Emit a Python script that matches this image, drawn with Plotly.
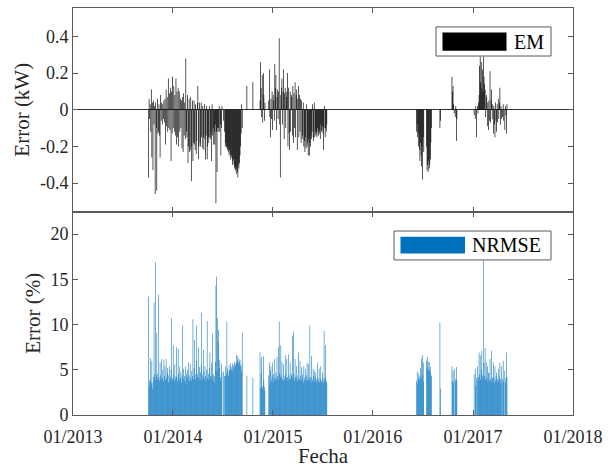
import pandas as pd
import plotly.graph_objects as go
from plotly.subplots import make_subplots

# ---- data: daily-sampled (every 2 days) error series, by measurement campaign ----
seg_starts = ["2013-10-04", "2014-09-28", "2014-10-20", "2014-11-15",
              "2016-06-09", "2016-09-02", "2016-10-16", "2017-01-05"]
N = None

em_seg1 = [-0.37, 0.06, -0.05, 0.03, -0.12, 0.11, -0.26, 0.04, -0.33, 0.05,
           -0.08, 0.02, -0.46, 0.04, -0.1, -0.44, 0.06, -0.13, -0.12, 0.03,
           -0.14, -0.26, 0.08, -0.06, 0.04, -0.08, 0.03, -0.05, 0.05, -0.07,
           0.06, -0.19, 0.11, -0.09, 0.07, -0.12, 0.17, -0.1, 0.09, -0.11,
           0.12, -0.28, 0.1, -0.13, 0.18, -0.1, 0.13, -0.12, 0.08, -0.14,
           0.17, -0.19, 0.1, -0.15, 0.12, -0.2, 0.1, -0.12, 0.06, -0.1,
           0.05, -0.21, 0.07, -0.23, 0.09, -0.14, 0.04, -0.16, 0.28, -0.12,
           -0.15, 0.08, -0.29, -0.2, 0.06, -0.23, -0.22, 0.07, -0.39, -0.2,
           0.05, -0.28, -0.18, 0.05, -0.19, -0.22, 0.03, -0.24, -0.17, 0.04,
           0.13, -0.27, -0.2, 0.04, -0.18, -0.2, 0.04, -0.15, -0.21, 0.02,
           -0.15, -0.22, 0.03, -0.16, -0.27, -0.14, 0.02, -0.27, -0.2, -0.15,
           -0.18, 0.02, -0.15, -0.16, -0.12, -0.28, 0.03, -0.14, -0.1, -0.19,
           -0.12, -0.19, -0.08, -0.51, -0.12, -0.34, -0.1, -0.12, -0.1, 0.02,
           -0.12, -0.08, -0.25, -0.1, 0.02, N, N, -0.06, N, -0.12,
           -0.2, -0.18, -0.2, -0.21, -0.22, -0.2, -0.23, -0.25, -0.22, -0.24,
           -0.27, -0.25, -0.26, -0.3, -0.28, -0.27, -0.3, -0.32, -0.31, -0.33,
           -0.35, -0.32, -0.34, -0.37, -0.3, -0.32, -0.29, -0.25, -0.2, -0.13,
           0.03, -0.1]
em_iso1 = [0.13]
em_iso2 = [0.15]
em_seg2 = [0.05, 0.26, 0.12, -0.04, 0.19, -0.07, 0.2, 0.08, -0.06, 0.04,
           N, N, N, N, N, N, 0.05, 0.22, -0.04, -0.15,
           0.06, -0.05, 0.1, -0.11, 0.08, 0.05, -0.06, 0.25, 0.12, 0.19,
           -0.11, 0.07, 0.11, -0.05, 0.1, 0.39, -0.08, -0.37, 0.08, 0.12,
           0.17, -0.08, 0.1, 0.22, -0.16, 0.09, 0.12, -0.1, 0.07, 0.1,
           0.2, -0.2, 0.12, -0.13, -0.22, 0.1, -0.12, 0.08, 0.07, -0.14,
           0.13, -0.18, 0.09, -0.1, 0.15, -0.15, 0.08, 0.11, -0.22, 0.06,
           0.13, -0.15, 0.08, -0.12, 0.06, -0.18, 0.05, -0.16, -0.14, 0.04,
           -0.2, -0.17, -0.23, -0.15, -0.21, 0.03, -0.2, -0.18, -0.25, -0.16,
           -0.25, -0.18, -0.2, -0.14, -0.16, -0.12, 0.03, -0.15, -0.17, 0.04,
           -0.15, -0.12, -0.14, -0.13, -0.15, -0.1, -0.12, -0.14, -0.11, -0.13,
           -0.16, -0.08, -0.12, -0.11, -0.09, -0.13, -0.22, -0.1, 0.02, -0.15,
           -0.1, -0.12, -0.08]
em_seg3 = [-0.12, -0.08, -0.15, -0.2, -0.13, -0.22, -0.28, -0.18, -0.25, -0.31,
           -0.2, -0.38, -0.15, -0.23, N, N, N, N, -0.2, -0.33,
           -0.3, -0.34, -0.28, -0.32, -0.3, -0.27, -0.18, -0.1]
em_iso3 = [-0.1, -0.06]
em_seg3b = [0.18, 0.1, 0.13, 0.03, -0.02, N, -0.04, 0.02, -0.17, -0.05]
em_seg4 = [-0.03, N, -0.05, 0.02, -0.15, N, 0.02, -0.02, 0.04, 0.08,
           0.24, 0.29, 0.15, 0.26, 0.12, 0.22, 0.1, 0.29, 0.18, 0.14,
           0.11, -0.04, 0.08, 0.07, -0.09, 0.04, -0.11, 0.05, -0.06, 0.21,
           -0.07, 0.05, 0.11, -0.05, 0.03, -0.13, 0.02, -0.08, -0.15, 0.04,
           -0.06, -0.12, 0.03, -0.07, 0.06, -0.05, 0.04, 0.12, -0.08, 0.02,
           -0.05, N, -0.04, 0.03, -0.06, N, -0.11, 0.02, -0.03, -0.13, 0.03]

nrmse_seg1 = [13.1, 3.2, 3.8, 6.3, 4.0, 3.5, 6.0, 2.9, 3.6, 4.2,
              12.4, 4.5, 3.9, 16.9, 4.4, 9.1, 4.0, 4.6, 13.3, 4.2,
              3.8, 5.8, 4.4, 3.9, 6.2, 4.1, 5.0, 3.7, 6.1, 4.3,
              5.4, 3.9, 6.2, 4.0, 4.6, 5.2, 3.6, 4.4, 5.4, 3.8,
              4.2, 5.0, 10.7, 4.1, 3.9, 7.7, 4.5, 3.8, 5.6, 4.0,
              4.3, 7.5, 4.2, 3.7, 7.3, 4.6, 3.9, 5.4, 4.1, 4.8,
              3.6, 4.4, 9.9, 4.0, 5.1, 3.8, 4.3, 5.4, 3.5, 4.6,
              4.2, 5.0, 3.9, 5.8, 4.4, 3.7, 5.6, 4.1, 3.8, 4.9,
              4.3, 10.6, 4.0, 5.2, 8.3, 4.5, 3.9, 6.0, 9.9, 4.2,
              4.6, 7.5, 4.1, 5.3, 3.8, 4.7, 5.5, 11.3, 4.4, 3.9,
              7.2, 4.8, 4.0, 5.4, 4.3, 3.7, 5.0, 10.4, 4.1, 4.6,
              3.9, 5.2, 6.9, 4.3, 4.0, 5.8, 4.4, 9.0, 3.8, 4.5,
              4.3, 3.6, 5.9, 14.3, 15.3, 4.8, 10.7, 8.1, 9.4, 5.2,
              6.1, 4.2, 3.8, 5.7, 4.7, N, N, 4.8, N, 4.3,
              4.3, 5.4, 4.6, 10.3, 5.1, 4.8, 4.3, 5.5, 4.9, 5.0,
              5.7, 5.0, 5.3, 5.7, 4.9, 5.5, 5.2, 5.9, 5.4, 5.6,
              5.8, 6.7, 6.0, 6.5, 5.7, 6.2, 5.9, 6.1, 5.4, 5.6,
              4.8, 9.1]
nrmse_iso1 = [4.3]
nrmse_iso2 = [4.1]
nrmse_seg2 = [6.9, 3.0, 4.6, 6.4, 3.2, 2.9, 6.5, 3.9, 3.1, 2.7,
              N, N, N, N, N, N, 4.4, 5.8, 3.5, 4.9,
              5.4, 3.8, 4.2, 5.8, 3.6, 4.5, 4.0, 6.2, 3.9, 4.7,
              4.1, 6.4, 4.3, 3.8, 7.5, 10.3, 4.6, 4.2, 7.7, 4.4,
              5.9, 4.0, 3.7, 5.6, 4.3, 3.9, 6.6, 4.5, 4.1, 6.2,
              4.2, 3.8, 6.7, 4.4, 4.0, 5.8, 3.9, 4.6, 4.3, 8.8,
              4.1, 9.2, 4.5, 3.8, 6.2, 4.2, 4.0, 5.4, 3.7, 4.4,
              6.9, 4.1, 3.9, 6.0, 4.3, 3.8, 5.3, 4.0, 4.5, 3.6,
              5.4, 3.9, 4.2, 5.1, 3.7, 4.4, 5.8, 3.8, 4.1, 5.6,
              3.9, 9.9, 4.2, 3.6, 6.5, 4.0, 3.8, 5.1, 4.3, 4.9,
              3.7, 4.2, 4.7, 3.9, 3.5, 5.8, 4.1, 3.8, 5.1, 3.6,
              4.0, 5.4, 3.8, 3.5, 4.7, 4.1, 3.6, 9.3, 3.9, 4.2,
              7.7, 3.8, 3.5]
nrmse_seg3 = [3.8, 4.8, 3.5, 4.1, 4.6, 3.9, 4.3, 5.2, 4.0, 6.2,
              4.4, 6.6, 5.8, 3.7, N, N, N, N, 6.0, 5.2,
              6.4, 5.9, 5.0, 5.8, 4.9, 5.3, 4.6, 4.3]
nrmse_iso3 = [10.2, 2.9]
nrmse_seg3b = [5.4, 3.8, 4.9, 3.6, 5.1, N, 4.0, 3.7, 5.3, 3.9]
nrmse_seg4 = [4.5, N, 5.1, 3.2, 4.1, N, 5.4, 3.8, 4.2, 6.9,
              4.5, 6.6, 3.9, 5.0, 7.1, 4.4, 4.0, 17.3, 5.8, 4.3,
              7.4, 3.9, 5.8, 4.1, 5.4, 3.7, 4.6, 4.7, 3.8, 6.2,
              4.0, 3.6, 7.1, 4.2, 3.9, 5.8, 4.1, 3.5, 5.4, 3.8,
              4.3, 4.7, 3.6, 4.0, 5.1, 3.7, 4.2, 5.8, 3.9, 3.5,
              5.4, N, 4.0, 6.0, 3.7, N, 4.9, 3.6, 4.1, 6.9, 4.2]

em_segments = [em_seg1, em_iso1, em_iso2, em_seg2, em_seg3, em_iso3, em_seg3b, em_seg4]
nrmse_segments = [nrmse_seg1, nrmse_iso1, nrmse_iso2, nrmse_seg2, nrmse_seg3,
                  nrmse_iso3, nrmse_seg3b, nrmse_seg4]

x_ticks = ["2013-01-01", "2014-01-01", "2015-01-01", "2016-01-01", "2017-01-01", "2018-01-01"]
x_ticklabels = ["01/2013", "01/2014", "01/2015", "01/2016", "01/2017", "01/2018"]


def build(segments):
    xs, ys = [], []
    for start, vals in zip(seg_starts, segments):
        dates = pd.date_range(start, periods=len(vals), freq="2D")
        xs.extend(dates)
        ys.extend(vals)
    return xs, ys


em_x, em_y = build(em_segments)
nr_x, nr_y = build(nrmse_segments)

DAY_MS = 86400000
FONT = "Liberation Serif"
TXT = "#262626"
AX = "#5a5a5a"

fig = make_subplots(rows=2, cols=1, shared_xaxes=True, vertical_spacing=0)
fig.add_trace(go.Bar(x=em_x, y=em_y, width=[2.4 * DAY_MS] * len(em_x),
                     marker=dict(color="#000000", line=dict(width=0)),
                     name="EM", showlegend=False), row=1, col=1)
fig.add_trace(go.Bar(x=nr_x, y=nr_y, width=[2.0 * DAY_MS] * len(nr_x),
                     marker=dict(color="#0072BD", line=dict(width=0)),
                     name="NRMSE", showlegend=False), row=2, col=1)

xcommon = dict(type="date", range=["2013-01-01", "2018-01-01"], automargin=False,
               tickmode="array", tickvals=x_ticks, ticktext=x_ticklabels,
               ticks="inside", ticklen=5, tickcolor=AX, showline=True, linecolor=AX,
               linewidth=1, mirror="allticks", showgrid=False, zeroline=False,
               tickfont=dict(family=FONT, size=18, color=TXT))
fig.update_xaxes(**xcommon)
fig.update_xaxes(showticklabels=False, row=1, col=1)
fig.update_xaxes(ticklabelstandoff=5,
                 title=dict(text="Fecha", font=dict(family=FONT, size=21, color=TXT), standoff=2),
                 row=2, col=1)

ycommon = dict(ticks="inside", ticklen=5, tickcolor=AX, showline=True, linecolor=AX,
               linewidth=1, mirror="allticks", showgrid=False, automargin=False,
               tickfont=dict(family=FONT, size=18, color=TXT))
fig.update_yaxes(**ycommon)
fig.update_yaxes(range=[-0.555, 0.555], tickvals=[-0.4, -0.2, 0, 0.2, 0.4],
                 ticktext=["-0.4", "-0.2", "0", "0.2", "0.4"],
                 zeroline=True, zerolinecolor="#333333", zerolinewidth=1,
                 title=dict(text="Error (kW)", font=dict(family=FONT, size=21, color=TXT), standoff=4),
                 row=1, col=1)
fig.update_yaxes(range=[0, 22.5], tickvals=[0, 5, 10, 15, 20], zeroline=False,
                 title=dict(text="Error (%)", font=dict(family=FONT, size=21, color=TXT), standoff=4),
                 row=2, col=1)

# legend boxes (drawn as shapes + text, MATLAB style wide swatches)
shapes = [
    dict(type="rect", xref="x domain", yref="y domain", x0=0.726, x1=0.956, y0=0.764, y1=0.907,
         fillcolor="white", line=dict(color=AX, width=1), layer="above"),
    dict(type="rect", xref="x domain", yref="y domain", x0=0.739, x1=0.867, y0=0.79, y1=0.879,
         fillcolor="black", line=dict(width=0), layer="above"),
    dict(type="rect", xref="x2 domain", yref="y2 domain", x0=0.642, x1=0.956, y0=0.762, y1=0.904,
         fillcolor="white", line=dict(color=AX, width=1), layer="above"),
    dict(type="rect", xref="x2 domain", yref="y2 domain", x0=0.655, x1=0.784, y0=0.794, y1=0.876,
         fillcolor="#0072BD", line=dict(width=0), layer="above"),
]
annotations = [
    dict(text="EM", xref="x domain", yref="y domain", x=0.878, y=0.835, xanchor="left",
         yanchor="middle", showarrow=False, font=dict(family=FONT, size=20, color="black")),
    dict(text="NRMSE", xref="x2 domain", yref="y2 domain", x=0.794, y=0.835, xanchor="left",
         yanchor="middle", showarrow=False, font=dict(family=FONT, size=20, color="black")),
]

fig.update_layout(width=614, height=468, margin=dict(l=73, r=41, t=8, b=53),
                  plot_bgcolor="white", paper_bgcolor="white", barmode="overlay",
                  shapes=shapes, annotations=annotations, showlegend=False)

fig.write_html("out.html", config={"staticPlot": True})
